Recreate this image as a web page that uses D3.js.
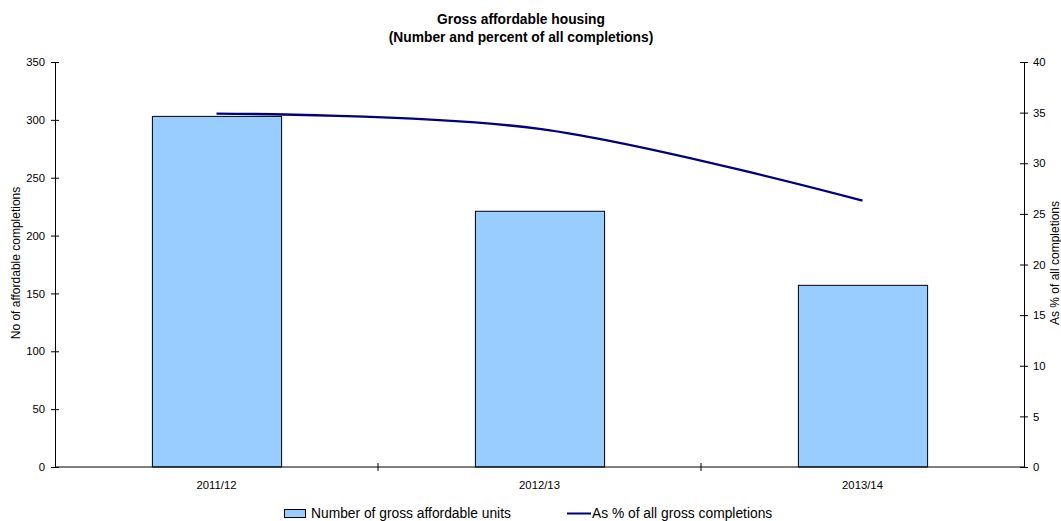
<!DOCTYPE html>
<html>
<head>
<meta charset="utf-8">
<script src="https://cdn.jsdelivr.net/npm/d3@7"></script>
<style>
  body { margin: 0; background: #fff; }
  svg { display: block; font-family: "Liberation Sans", Arial, sans-serif; }
</style>
</head>
<body>
<svg id="chart" width="1061" height="521"></svg>
<script>
// Gross affordable housing completions by year
const years = ["2011/12", "2012/13", "2013/14"];
const affordableUnits = [303, 221, 157];
const pctOfCompletions = [34.9, 33.4, 26.3];
const leftTicks = [0, 50, 100, 150, 200, 250, 300, 350];
const rightTicks = [0, 5, 10, 15, 20, 25, 30, 35, 40];

const svg = d3.select("#chart");
const plot = { left: 55, right: 1024, top: 62, bottom: 467 };

const x = d3.scaleBand().domain(years).range([plot.left, plot.right]).paddingInner(0.6).paddingOuter(0.3);
const xOuter = d3.scaleBand().domain(years).range([plot.left, plot.right]);
const yLeft = d3.scaleLinear().domain([0, 350]).range([plot.bottom, plot.top]);
const yRight = d3.scaleLinear().domain([0, 40]).range([plot.bottom, plot.top]);

// Title
svg.append("text").attr("x", 521).attr("y", 24).attr("text-anchor", "middle")
  .attr("font-size", 13.8).attr("font-weight", "bold").text("Gross affordable housing");
svg.append("text").attr("x", 521).attr("y", 42).attr("text-anchor", "middle")
  .attr("font-size", 13.8).attr("font-weight", "bold").text("(Number and percent of all completions)");

// Bars
svg.append("g").selectAll("rect").data(years).join("rect")
  .attr("x", d => x(d) + 0.5)
  .attr("y", (d, i) => yLeft(affordableUnits[i]))
  .attr("width", x.bandwidth())
  .attr("height", (d, i) => plot.bottom - yLeft(affordableUnits[i]))
  .attr("fill", "#99CCFF").attr("stroke", "#000").attr("stroke-width", 1);

// Percentage line
const line = d3.line()
  .x((d, i) => xOuter(years[i]) + xOuter.bandwidth() / 2)
  .y(d => yRight(d))
  .curve(d3.curveCatmullRom.alpha(0.5));
svg.append("path").datum(pctOfCompletions)
  .attr("d", line).attr("fill", "none").attr("stroke", "#000080").attr("stroke-width", 2.4);

// Left axis
const gl = svg.append("g").attr("transform", `translate(${plot.left},0)`)
  .call(d3.axisLeft(yLeft).tickValues(leftTicks).tickSize(4).tickPadding(6));
gl.selectAll(".tick line").attr("x1", 4);
// Right axis
const gr = svg.append("g").attr("transform", `translate(${plot.right},0)`)
  .call(d3.axisRight(yRight).tickValues(rightTicks).tickSize(4).tickPadding(5));
gr.selectAll(".tick line").attr("x1", -4);
// Bottom axis with ticks between categories
const gb = svg.append("g").attr("transform", `translate(0,${plot.bottom})`)
  .call(d3.axisBottom(xOuter).tickSize(0).tickPadding(14));
gb.selectAll(".tick").each(function (d, i) {
  if (i > 0) {
    d3.select(this).append("line")
      .attr("x1", -xOuter.bandwidth() / 2).attr("x2", -xOuter.bandwidth() / 2)
      .attr("y1", -4).attr("y2", 4).attr("stroke", "#000");
  }
});

[gl, gr, gb].forEach(g => {
  g.select(".domain").attr("stroke", "#000");
  g.selectAll("text").attr("font-size", 11.3).attr("fill", "#000")
    .attr("font-family", "Liberation Sans, Arial, sans-serif");
});
gb.select(".domain").attr("d", `M${plot.left},0H${plot.right}`);

// Axis titles
svg.append("text").attr("transform", "translate(20,263) rotate(-90)")
  .attr("text-anchor", "middle").attr("font-size", 12).text("No of affordable completions");
svg.append("text").attr("transform", "translate(1059,263) rotate(-90)")
  .attr("text-anchor", "middle").attr("font-size", 12).text("As % of all completions");

// Legend
const lg = svg.append("g").attr("font-size", 13.8);
lg.append("rect").attr("x", 284.5).attr("y", 509.5).attr("width", 21).attr("height", 8)
  .attr("fill", "#99CCFF").attr("stroke", "#000");
lg.append("text").attr("x", 311).attr("y", 518).text("Number of gross affordable units");
lg.append("line").attr("x1", 567).attr("x2", 591).attr("y1", 513.5).attr("y2", 513.5)
  .attr("stroke", "#000080").attr("stroke-width", 2);
lg.append("text").attr("x", 592).attr("y", 518).text("As % of all gross completions");
</script>
</body>
</html>
